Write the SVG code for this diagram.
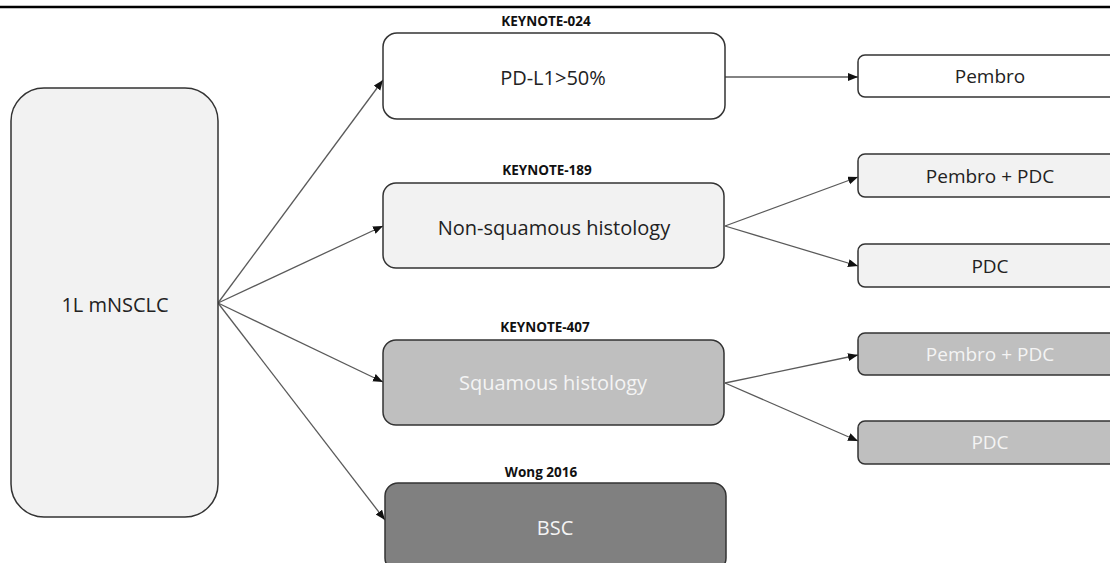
<svg xmlns="http://www.w3.org/2000/svg" width="1110" height="563" viewBox="0 0 1110 563">
<style>
.box{stroke:#333;stroke-width:1.5}
.light{fill:#f2f2f2}
.white{fill:#ffffff}
.mid{fill:#bfbfbf}
.dark{fill:#808080}
.t{font-family:"Open Sans","Liberation Sans",sans-serif;font-size:20px;text-anchor:middle;dominant-baseline:central}
.ts{font-family:"Open Sans","Liberation Sans",sans-serif;font-size:19px;text-anchor:middle;dominant-baseline:central}
.blk{fill:#222}
.wht{fill:#f4f4f4}
.lbl{font-family:"Open Sans","Liberation Sans",sans-serif;font-size:13.5px;font-weight:bold;text-anchor:middle;fill:#111}
.c{stroke:#5a5a5a;stroke-width:1.3;fill:none;marker-end:url(#ah)}
</style>
<defs>
<marker id="ah" markerUnits="userSpaceOnUse" markerWidth="12" markerHeight="10" refX="10" refY="4" orient="auto">
<path d="M0,0 L10,4 L0,8 Z" fill="#111"/>
</marker>
</defs>
<rect width="1110" height="563" fill="#ffffff"/>
<line x1="0" y1="7" x2="1110" y2="7" stroke="#000" stroke-width="2.5"/>
<g id="connectors">
<line class="c" x1="218" y1="303" x2="383" y2="80"/>
<line class="c" x1="218" y1="303" x2="383" y2="226"/>
<line class="c" x1="218" y1="303" x2="383" y2="382"/>
<line class="c" x1="218" y1="303" x2="385" y2="520"/>
<line class="c" x1="725" y1="77" x2="858" y2="77"/>
<line class="c" x1="725" y1="226" x2="858" y2="177"/>
<line class="c" x1="725" y1="226" x2="858" y2="266"/>
<line class="c" x1="725" y1="383" x2="858" y2="355"/>
<line class="c" x1="725" y1="383" x2="858" y2="441"/>
</g>
<g id="n-mnsclc">
<rect class="box light" x="11" y="88" width="207" height="429" rx="33" ry="33"/>
<text class="t blk" x="115" y="304">1L mNSCLC</text>
</g>
<g id="n-pdl1">
<text class="lbl" x="546" y="26">KEYNOTE-024</text>
<rect class="box white" x="383" y="33" width="342" height="86" rx="14" ry="14"/>
<text class="t blk" x="553" y="77">PD-L1&gt;50%</text>
</g>
<g id="n-nonsq">
<text class="lbl" x="547" y="175">KEYNOTE-189</text>
<rect class="box light" x="383" y="183" width="341" height="85" rx="13" ry="13"/>
<text class="t blk" x="554" y="227">Non-squamous histology</text>
</g>
<g id="n-sq">
<text class="lbl" x="545" y="332">KEYNOTE-407</text>
<rect class="box mid" x="383" y="340" width="341" height="85" rx="13" ry="13"/>
<text class="t wht" x="553" y="382">Squamous histology</text>
</g>
<g id="n-bsc">
<text class="lbl" x="541" y="477">Wong 2016</text>
<rect class="box dark" x="385" y="483" width="341" height="88" rx="13" ry="13"/>
<text class="t wht" x="555" y="527">BSC</text>
</g>
<g id="n-pembro">
<rect class="box white" x="858" y="55" width="262" height="42" rx="7" ry="7"/>
<text class="ts blk" x="990" y="76">Pembro</text>
</g>
<g id="n-pembro-pdc-1">
<rect class="box light" x="858" y="154" width="262" height="43" rx="7" ry="7"/>
<text class="ts blk" x="990" y="176">Pembro + PDC</text>
</g>
<g id="n-pdc-1">
<rect class="box light" x="858" y="244" width="262" height="43" rx="7" ry="7"/>
<text class="ts blk" x="990" y="266">PDC</text>
</g>
<g id="n-pembro-pdc-2">
<rect class="box mid" x="858" y="333" width="262" height="42" rx="7" ry="7"/>
<text class="ts wht" x="990" y="354">Pembro + PDC</text>
</g>
<g id="n-pdc-2">
<rect class="box mid" x="858" y="421" width="262" height="43" rx="7" ry="7"/>
<text class="ts wht" x="990" y="442">PDC</text>
</g>
</svg>
